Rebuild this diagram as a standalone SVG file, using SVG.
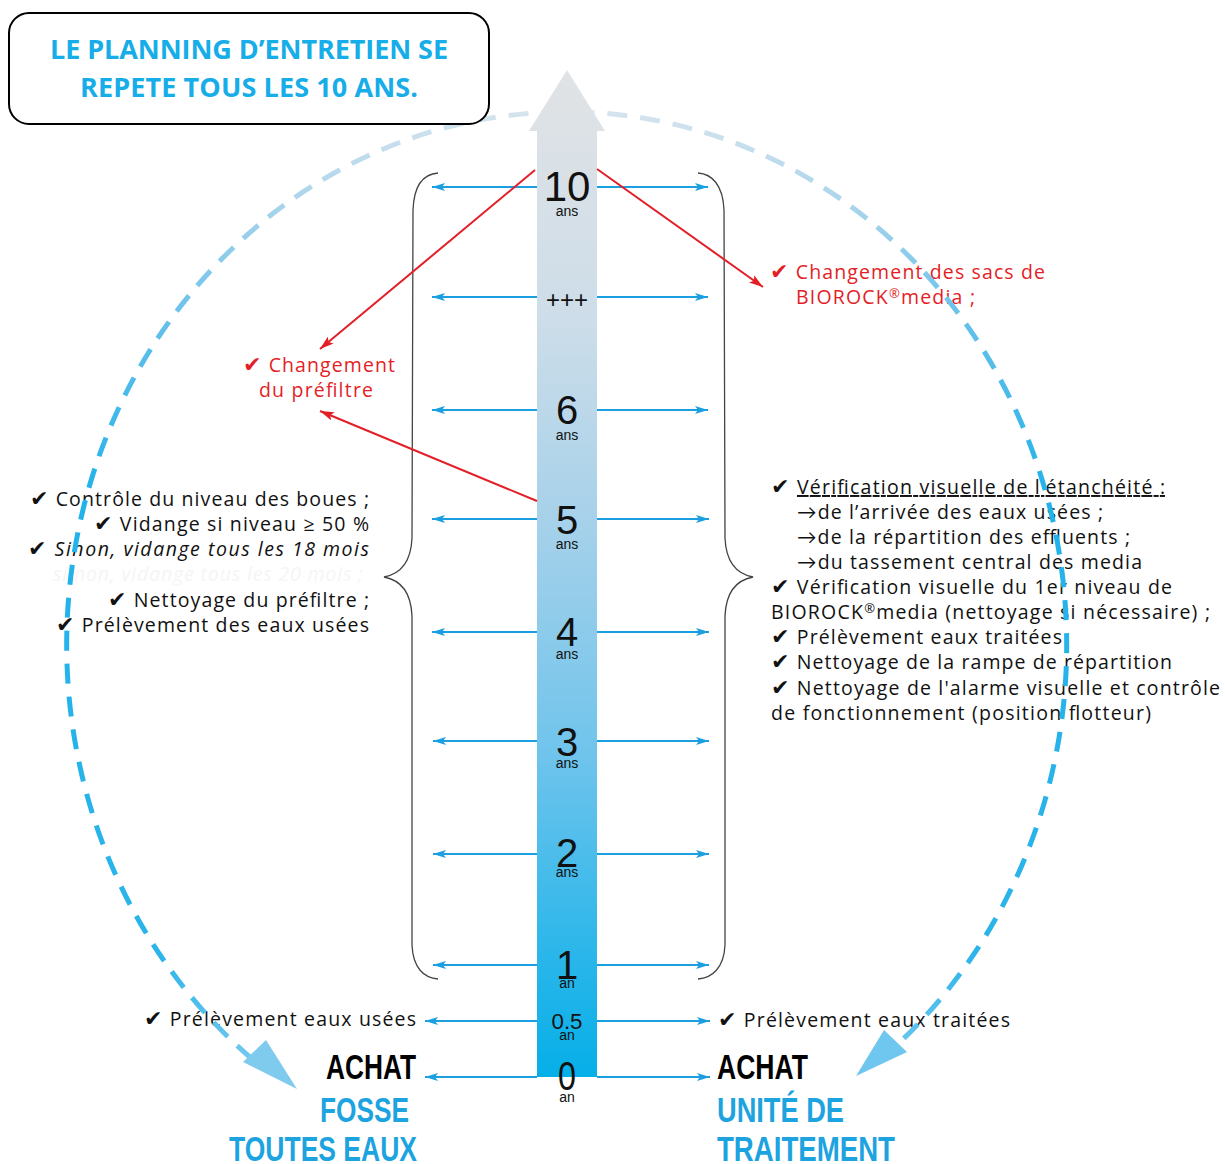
<svg xmlns="http://www.w3.org/2000/svg" width="1225" height="1164" viewBox="0 0 1225 1164">
<style>
.txt{font-family:"Open Sans",Lato,"Liberation Sans",sans-serif;font-size:19.5px;fill:#111}
.red{fill:#e41e26}
.big{font-family:"Liberation Sans",Arial,sans-serif;font-weight:bold;font-size:35px}
.num{font-family:"Liberation Sans",Arial,sans-serif;fill:#111;text-anchor:middle}
.unit{font-family:"Liberation Sans",Arial,sans-serif;fill:#111;text-anchor:middle;font-size:14px}
.blue{stroke:#1b9fe0;stroke-width:2;fill:none;marker-end:url(#ba)}
.redl{stroke:#e41e26;stroke-width:2;fill:none;marker-end:url(#ra)}
.brace{stroke:#444;stroke-width:1.3;fill:none}
.chk{font-family:"DejaVu Sans",sans-serif;font-size:22px}
</style>
<defs>
<linearGradient id="barg" gradientUnits="userSpaceOnUse" x1="0" y1="70" x2="0" y2="1077">
<stop offset="0" stop-color="#e1e3e5"/>
<stop offset="0.25" stop-color="#cddde9"/>
<stop offset="0.45" stop-color="#a6d1ea"/>
<stop offset="0.68" stop-color="#6fc4ec"/>
<stop offset="0.88" stop-color="#2ab6ea"/>
<stop offset="1" stop-color="#06afe8"/>
</linearGradient>
<linearGradient id="arcg" gradientUnits="userSpaceOnUse" x1="0" y1="110" x2="0" y2="1100">
<stop offset="0" stop-color="#d6e4ed"/>
<stop offset="0.09" stop-color="#add5ec"/>
<stop offset="0.22" stop-color="#62c0ea"/>
<stop offset="0.39" stop-color="#22b2ea"/>
<stop offset="0.85" stop-color="#2ab4ea"/>
<stop offset="1" stop-color="#8fd0ef"/>
</linearGradient>
<marker id="ba" viewBox="0 0 13 8" refX="13" refY="4" markerWidth="13" markerHeight="8" markerUnits="userSpaceOnUse" orient="auto">
<path d="M0,0 L13,4 L0,8 L3,4 z" fill="#1b9fe0"/>
</marker>
<marker id="ra" viewBox="0 0 14 9" refX="14" refY="4.5" markerWidth="14" markerHeight="9" markerUnits="userSpaceOnUse" orient="auto">
<path d="M0,0 L14,4.5 L0,9 L3,4.5 z" fill="#e41e26"/>
</marker>
</defs>
<rect width="1225" height="1164" fill="#fff"/>

<g id="left-text">
<text class="txt" x="30" y="506" textLength="339"><tspan class="chk">✔</tspan> Contrôle du niveau des boues ;</text>
<text class="txt" x="94" y="531" textLength="275"><tspan class="chk">✔</tspan> Vidange si niveau ≥ 50 %</text>
<text class="txt" x="28" y="556" textLength="341"><tspan class="chk">✔</tspan> <tspan font-style="italic">Sinon, vidange tous les 18 mois</tspan></text>
<text class="txt" x="53" y="581" textLength="310" font-style="italic" style="fill:#f5f5f5">si non, vidange tous les 20 mois ;</text>
<text class="txt" x="108" y="607" textLength="261"><tspan class="chk">✔</tspan> Nettoyage du préfiltre ;</text>
<text class="txt" x="56" y="632" textLength="313"><tspan class="chk">✔</tspan> Prélèvement des eaux usées</text>
</g>

<g id="right-text">
<text class="txt" x="771" y="494" textLength="394"><tspan class="chk">✔</tspan> <tspan text-decoration="underline">Vérification visuelle de l’étanchéité :</tspan></text>
<text class="txt" x="797" y="519" textLength="306">→de l’arrivée des eaux usées ;</text>
<text class="txt" x="797" y="544" textLength="333">→de la répartition des effluents ;</text>
<text class="txt" x="797" y="569" textLength="345">→du tassement central des media</text>
<text class="txt" x="771" y="594" textLength="401"><tspan class="chk">✔</tspan> Vérification visuelle du 1er niveau de</text>
<text class="txt" x="771" y="619" textLength="439">BIOROCK<tspan font-size="13" dy="-6">®</tspan><tspan dy="6">media (nettoyage si nécessaire) ;</tspan></text>
<text class="txt" x="771" y="644" textLength="291"><tspan class="chk">✔</tspan> Prélèvement eaux traitées</text>
<text class="txt" x="771" y="669" textLength="401"><tspan class="chk">✔</tspan> Nettoyage de la rampe de répartition</text>
<text class="txt" x="771" y="695" textLength="449"><tspan class="chk">✔</tspan> Nettoyage de l'alarme visuelle et contrôle</text>
<text class="txt" x="771" y="720" textLength="380">de fonctionnement (position flotteur)</text>
</g>

<g id="red-text">
<text class="txt red" x="243" y="372" textLength="152"><tspan class="chk">✔</tspan> Changement</text>
<text class="txt red" x="259" y="397" textLength="114">du préfiltre</text>
<text class="txt red" x="770" y="279" textLength="275"><tspan class="chk">✔</tspan> Changement des sacs de</text>
<text class="txt red" x="796" y="304" textLength="179">BIOROCK<tspan font-size="13" dy="-6">®</tspan><tspan dy="6">media ;</tspan></text>
</g>

<g id="bottom-text">
<text class="txt" x="144" y="1026" textLength="272"><tspan class="chk">✔</tspan> Prélèvement eaux usées</text>
<text class="txt" x="718" y="1027" textLength="292"><tspan class="chk">✔</tspan> Prélèvement eaux traitées</text>
<text class="big" x="326" y="1079" textLength="90" lengthAdjust="spacingAndGlyphs" fill="#000">ACHAT</text>
<text class="big" x="320" y="1122" textLength="89" lengthAdjust="spacingAndGlyphs" fill="#1ca3e0">FOSSE</text>
<text class="big" x="229" y="1161" textLength="188" lengthAdjust="spacingAndGlyphs" fill="#1ca3e0">TOUTES EAUX</text>
<text class="big" x="717" y="1079" textLength="91" lengthAdjust="spacingAndGlyphs" fill="#000">ACHAT</text>
<text class="big" x="717" y="1122" textLength="127" lengthAdjust="spacingAndGlyphs" fill="#1ca3e0">UNITÉ DE</text>
<text class="big" x="717" y="1161" textLength="178" lengthAdjust="spacingAndGlyphs" fill="#1ca3e0">TRAITEMENT</text>
</g>

<g id="cycle">
<path d="M252,1059 A500,533 0 1 1 898,1044" fill="none" stroke="url(#arcg)" stroke-width="5" stroke-dasharray="20 13"/>
<polygon points="243,1062 266,1040 297,1089" fill="#7fcbee"/>
<polygon points="856,1076 884,1030 907,1052" fill="#6fc6ee"/>
</g>

<g id="title">
<rect x="9" y="13" width="480" height="111" rx="20" ry="20" fill="#fff" stroke="#000" stroke-width="2"/>
<text x="50" y="59" textLength="398" font-family="'Open Sans',Lato,'Liberation Sans',sans-serif" font-weight="bold" font-size="27" fill="#16ade8">LE PLANNING D’ENTRETIEN SE</text>
<text x="80" y="97" textLength="338" font-family="'Open Sans',Lato,'Liberation Sans',sans-serif" font-weight="bold" font-size="27" fill="#16ade8">REPETE TOUS LES 10 ANS.</text>
</g>

<g id="braces">
<path class="brace" d="M438,173 C424,174 414,185 413,210 L412,538 C411,562 400,574 384,577 C400,580 411,592 412,616 L412,945 C413,968 424,978 438,979"/>
<path class="brace" d="M698,173 C712,174 723,185 724,210 L725,538 C726,562 737,574 753,577 C737,580 726,592 725,616 L725,945 C724,968 712,978 698,979"/>
</g>

<g id="timeline">
<polygon points="567,70 605,131 597,131 597,1077 537,1077 537,131 529,131" fill="url(#barg)"/>
</g>

<g id="connectors">
<line class="blue" x1="537" y1="187" x2="432" y2="187"/><line class="blue" x1="597" y1="187" x2="708" y2="187"/>
<line class="blue" x1="537" y1="297" x2="432" y2="297"/><line class="blue" x1="597" y1="297" x2="708" y2="297"/>
<line class="blue" x1="537" y1="410" x2="432" y2="410"/><line class="blue" x1="597" y1="410" x2="708" y2="410"/>
<line class="blue" x1="537" y1="519" x2="432" y2="519"/><line class="blue" x1="597" y1="519" x2="709" y2="519"/>
<line class="blue" x1="537" y1="632" x2="432" y2="632"/><line class="blue" x1="597" y1="632" x2="709" y2="632"/>
<line class="blue" x1="537" y1="741" x2="433" y2="741"/><line class="blue" x1="597" y1="741" x2="709" y2="741"/>
<line class="blue" x1="537" y1="854" x2="433" y2="854"/><line class="blue" x1="597" y1="854" x2="709" y2="854"/>
<line class="blue" x1="537" y1="965" x2="433" y2="965"/><line class="blue" x1="597" y1="965" x2="709" y2="965"/>
<line class="blue" x1="537" y1="1021" x2="425" y2="1021"/><line class="blue" x1="597" y1="1021" x2="710" y2="1021"/>
<line class="blue" x1="537" y1="1077" x2="425" y2="1077"/><line class="blue" x1="597" y1="1077" x2="710" y2="1077"/>
<line class="redl" x1="535" y1="170" x2="320" y2="349"/>
<line class="redl" x1="537" y1="501" x2="320" y2="411"/>
<line class="redl" x1="597" y1="169" x2="763" y2="287"/>
</g>

<g id="labels">
<text class="num" x="567" y="201" font-size="42">10</text><text class="unit" x="567" y="216">ans</text>
<text class="num" x="567" y="308" font-size="24">+++</text>
<text class="num" x="567" y="424" font-size="40">6</text><text class="unit" x="567" y="440">ans</text>
<text class="num" x="567" y="534" font-size="40">5</text><text class="unit" x="567" y="549">ans</text>
<text class="num" x="567" y="646" font-size="40">4</text><text class="unit" x="567" y="659">ans</text>
<text class="num" x="567" y="756" font-size="40">3</text><text class="unit" x="567" y="768">ans</text>
<text class="num" x="567" y="867" font-size="40">2</text><text class="unit" x="567" y="877">ans</text>
<text class="num" x="567" y="979" font-size="40">1</text><text class="unit" x="567" y="988">an</text>
<text class="num" x="567" y="1029" font-size="22" textLength="31" lengthAdjust="spacingAndGlyphs">0.5</text><text class="unit" x="567" y="1040">an</text>
<text class="num" x="567" y="1090" font-size="40" textLength="18" lengthAdjust="spacingAndGlyphs">0</text><text class="unit" x="567" y="1102">an</text>
</g>
</svg>
